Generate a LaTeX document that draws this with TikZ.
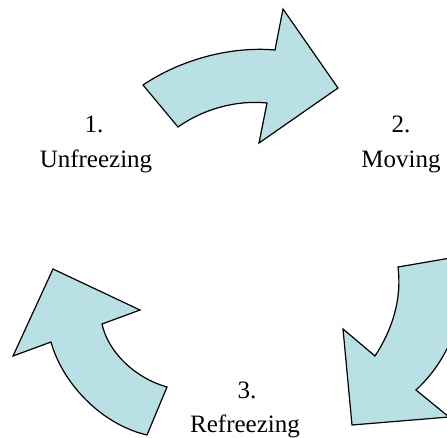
\documentclass[tikz,border=0pt]{standalone}
\usepackage{fontspec}
\setmainfont{Liberation Serif}
\definecolor{arrowfill}{RGB}{185,224,228}

\begin{document}
\begin{tikzpicture}[x=1pt,y=-1pt,
    bigarrow/.style={draw=black,fill=arrowfill,line width=1.2pt,line join=miter},
    stagelbl/.style={inner sep=0pt,anchor=base,font=\fontsize{25}{30}\selectfont}]
  \useasboundingbox (0,0) rectangle (447,437);
  \clip (0,0) rectangle (447,437);
  % top arrow: unfreezing -> moving
  \path[coordinate] (143,85) coordinate (A)
    (275,50) coordinate (B)
    (267,103) coordinate (C)
    (178,127) coordinate (D);
  \draw[bigarrow] (A) .. controls (180,60) and (230,46) .. (B)
    -- (283,9) -- (338,88) -- (259,143) -- (C)
    .. controls (238,100) and (205,108) .. (D) -- cycle;
  % right arrow: moving -> refreezing
  \path[coordinate] (398,267) coordinate (A)
    (462,256) coordinate (B)
    (416,390) coordinate (C)
    (375,356) coordinate (D);
  \draw[bigarrow] (A) -- (B)
    .. controls (466,320) and (448,360) .. (C)
    -- (449,417) -- (352,425) -- (343,329) -- (D)
    .. controls (392,330) and (402,300) .. (A) -- cycle;
  % left arrow: refreezing -> unfreezing
  \path[coordinate] (147,435) coordinate (A)
    (167,387) coordinate (B)
    (102,324) coordinate (C)
    (51,342) coordinate (D);
  \draw[bigarrow] (A) -- (B)
    .. controls (135,378) and (108,352) .. (C)
    -- (140,310) -- (53,269) -- (13,356) -- (D)
    .. controls (62,382) and (100,424) .. (A) -- cycle;
  % labels
  \node[stagelbl] (num1) at (94,132) {1.};
  \node[stagelbl] (name1) at (96,167) {Unfreezing};
  \node[stagelbl] (num2) at (401,132) {2.};
  \node[stagelbl] (name2) at (401,167) {Moving};
  \node[stagelbl] (num3) at (247,398) {3.};
  \node[stagelbl] (name3) at (245,432) {Refreezing};
\end{tikzpicture}
\end{document}
